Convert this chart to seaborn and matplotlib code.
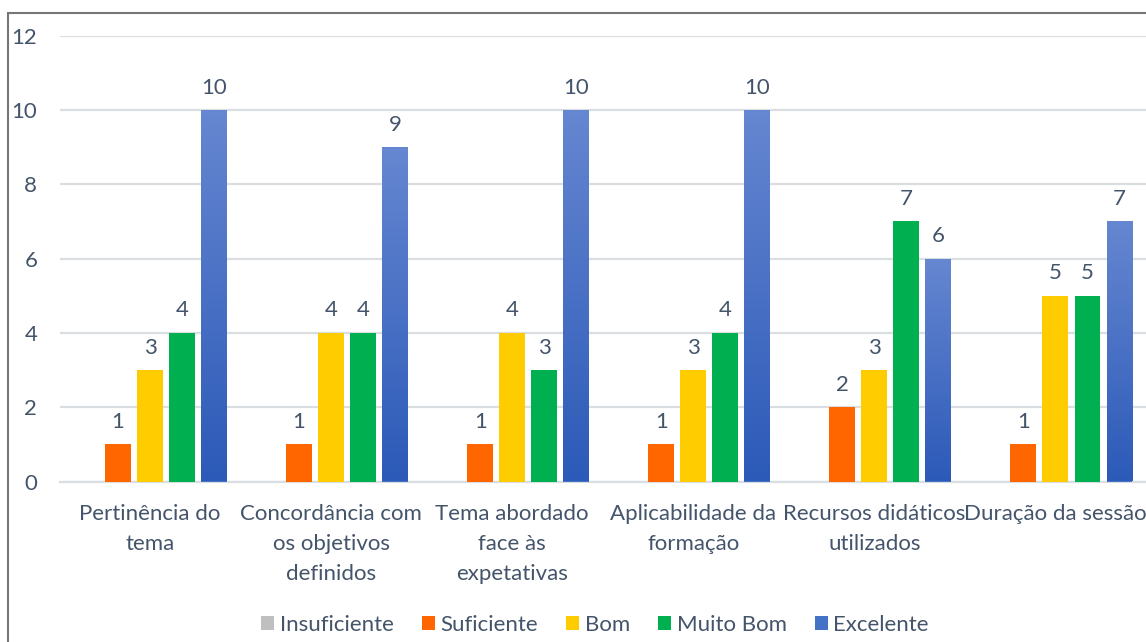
import numpy as np
import pandas as pd
import matplotlib
matplotlib.use("Agg")
import matplotlib.pyplot as plt
from matplotlib.colors import LinearSegmentedColormap
from matplotlib.patches import Rectangle
import seaborn as sns

# Survey results per evaluated item
categories = [
    "Pertinência do\ntema",
    "Concordância com\nos objetivos\ndefinidos",
    "Tema abordado\nface às\nexpetativas",
    "Aplicabilidade da\nformação",
    "Recursos didáticos\nutilizados",
    "Duração da sessão",
]
levels = ["Insuficiente", "Suficiente", "Bom", "Muito Bom", "Excelente"]
insuficiente = [0, 0, 0, 0, 0, 0]
suficiente = [1, 1, 1, 1, 2, 1]
bom = [3, 4, 4, 3, 3, 5]
muito_bom = [4, 4, 3, 4, 7, 5]
excelente = [10, 9, 10, 10, 6, 7]
y_ticks = [0, 2, 4, 6, 8, 10, 12]

colors = ["#BFBFBF", "#FF6600", "#FFCC00", "#00B050", "#4472C4"]
text_color = "#44546A"
grid_color = "#DADDE2"

series = [insuficiente, suficiente, bom, muito_bom, excelente]
df = pd.DataFrame(
    [(c, lvl, v) for lvl, vals in zip(levels, series) for c, v in zip(categories, vals)],
    columns=["item", "nivel", "valor"],
)

sns.set_theme(style="white")
plt.rcParams["font.family"] = ["Lato", "DejaVu Sans"]
fs = 16

W, H = 1146, 642
fig = plt.figure(figsize=(W / 100, H / 100), dpi=100)
ax = fig.add_axes([59.5 / W, 1 - 481.5 / H, 1 - 59.5 / W, (481.5 - 35.7) / H])

sns.barplot(
    data=df, x="item", y="valor", hue="nivel", hue_order=levels,
    order=categories, palette=colors, width=0.884, gap=0.19,
    saturation=1, legend=False, ax=ax, zorder=3,
)
for cont in ax.containers:
    for p in cont:
        p.set_edgecolor("none")

# Gradient fill on the "Excelente" bars
grad = LinearSegmentedColormap.from_list("exc", ["#2C5AB8", "#6687D1"])
for p in ax.containers[4]:
    x0, y0 = p.get_x(), p.get_y()
    w, h = p.get_width(), p.get_height()
    img = ax.imshow(
        np.linspace(0, 1, 256).reshape(-1, 1), cmap=grad, origin="lower",
        extent=(x0, x0 + w, y0, y0 + h), aspect="auto", zorder=3.5,
        interpolation="bicubic",
    )
    img.set_clip_path(p)

# Value labels above bars (zero bars are left unlabeled)
for cont, vals in zip(ax.containers, series):
    ax.bar_label(
        cont, labels=[str(v) if v else "" for v in vals], padding=9,
        fontsize=fs, color=text_color, zorder=5,
    )

ax.set_xlim(-0.5, len(categories) - 0.5)
ax.set_ylim(0, 12)
ax.set_yticks(y_ticks)
ax.yaxis.grid(True, color=grid_color, linewidth=1.6, zorder=0)
ax.set_axisbelow(True)
for s in ["left", "right", "top"]:
    ax.spines[s].set_visible(False)
ax.spines["bottom"].set_color(grid_color)
ax.spines["bottom"].set_linewidth(1.6)
ax.tick_params(axis="both", length=0, labelsize=fs, labelcolor=text_color)
ax.tick_params(axis="y", pad=16)
ax.tick_params(axis="x", pad=16)
for lbl in ax.get_yticklabels():
    lbl.set_horizontalalignment("right")
for lbl in ax.get_xticklabels():
    lbl.set_linespacing(1.62)
ax.set_xlabel("")
ax.set_ylabel("")

# Legend along the bottom
handles = [Rectangle((0, 0), 1, 1, facecolor=c, edgecolor="none") for c in colors]
fig.legend(
    handles, levels, loc="center", bbox_to_anchor=(595 / W, 1 - 625 / H),
    ncol=5, frameon=False, fontsize=fs, labelcolor=text_color,
    handlelength=0.6, handleheight=0.6, handletextpad=0.25, columnspacing=1.25,
)

# Chart area outline
fig.patches.append(Rectangle(
    (8 / W, -0.1), 1.2, 1.1 - 13 / H, transform=fig.transFigure,
    fill=False, edgecolor="#767676", linewidth=1.5, zorder=10,
))

fig.savefig("out.png", dpi=100)
